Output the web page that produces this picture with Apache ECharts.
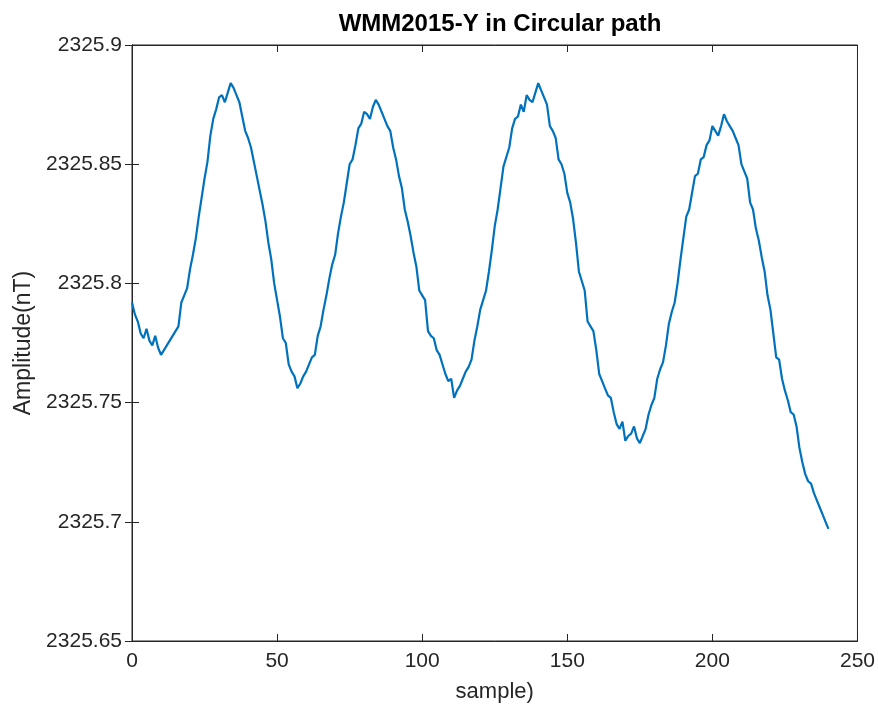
<!DOCTYPE html>
<html>
<head>
<meta charset="utf-8">
<script src="https://cdn.jsdelivr.net/npm/echarts@6/dist/echarts.min.js"></script>
<style>
html,body{margin:0;padding:0;background:#fff;}
#chart{width:878px;height:713px;}
</style>
</head>
<body>
<div id="chart"></div>
<script>
const titleText = "WMM2015-Y in Circular path";
const xName = "sample)";
const yName = "Amplitude(nT)";
const yTicks = [2325.65, 2325.7, 2325.75, 2325.8, 2325.85, 2325.9];
const xTicks = [0, 50, 100, 150, 200, 250];
const amplitude = [
2325.792,2325.787,2325.784,2325.779,2325.777,2325.781,2325.776,2325.774,2325.778,2325.773,
2325.770,2325.772,2325.774,2325.776,2325.778,2325.780,2325.782,2325.792,2325.795,2325.798,
2325.806,2325.812,2325.819,2325.828,2325.836,2325.844,2325.851,2325.862,2325.869,2325.873,
2325.878,2325.879,2325.876,2325.880,2325.884,2325.882,2325.879,2325.876,2325.870,2325.864,
2325.861,2325.857,2325.851,2325.845,2325.839,2325.833,2325.826,2325.817,2325.810,2325.800,
2325.793,2325.786,2325.777,2325.775,2325.766,2325.763,2325.761,2325.756,2325.758,2325.761,
2325.763,2325.766,2325.769,2325.770,2325.778,2325.782,2325.789,2325.795,2325.802,2325.808,
2325.812,2325.821,2325.828,2325.834,2325.842,2325.850,2325.852,2325.858,2325.865,2325.867,
2325.872,2325.871,2325.869,2325.874,2325.877,2325.875,2325.872,2325.869,2325.866,2325.864,
2325.857,2325.852,2325.845,2325.840,2325.831,2325.826,2325.820,2325.813,2325.807,2325.797,
2325.795,2325.793,2325.780,2325.778,2325.777,2325.772,2325.770,2325.766,2325.762,2325.759,
2325.760,2325.752,2325.755,2325.757,2325.760,2325.763,2325.765,2325.768,2325.776,2325.782,
2325.789,2325.793,2325.797,2325.805,2325.814,2325.824,2325.831,2325.840,2325.849,2325.853,
2325.857,2325.865,2325.869,2325.870,2325.875,2325.872,2325.879,2325.877,2325.876,2325.880,
2325.884,2325.881,2325.878,2325.875,2325.866,2325.864,2325.861,2325.852,2325.850,2325.846,
2325.838,2325.834,2325.827,2325.817,2325.805,2325.801,2325.797,2325.784,2325.782,2325.780,
2325.772,2325.762,2325.759,2325.756,2325.753,2325.752,2325.746,2325.741,2325.739,2325.742,
2325.734,2325.736,2325.737,2325.740,2325.735,2325.733,2325.736,2325.739,2325.745,2325.749,
2325.752,2325.760,2325.764,2325.767,2325.774,2325.783,2325.788,2325.792,2325.800,2325.810,
2325.819,2325.828,2325.831,2325.838,2325.845,2325.846,2325.852,2325.853,2325.858,2325.860,
2325.866,2325.864,2325.862,2325.866,2325.871,2325.868,2325.866,2325.864,2325.861,2325.858,
2325.850,2325.847,2325.844,2325.834,2325.831,2325.823,2325.818,2325.811,2325.805,2325.795,
2325.789,2325.779,2325.769,2325.768,2325.760,2325.755,2325.751,2325.746,2325.745,2325.740,
2325.731,2325.725,2325.720,2325.717,2325.716,2325.712,2325.709,2325.706,2325.703,2325.700,
2325.697
];

const seriesData = amplitude.map((v, i) => [i, v]);
const FONT = "Liberation Sans";
const axisColor = "#262626";

const fmtY = v => {
  let s = (Math.round(v * 100) / 100).toFixed(2);
  if (s.endsWith("0")) s = s.slice(0, -1);
  return s;
};

const chart = echarts.init(document.getElementById("chart"), null, {renderer: "canvas"});
chart.setOption({
  animation: false,
  backgroundColor: "#ffffff",
  title: {
    text: titleText,
    left: 495,
    textAlign: "center",
    top: 7,
    textStyle: {fontFamily: FONT, fontSize: 24, fontWeight: "bold", color: "#000"}
  },
  grid: {left: 132, right: 20, top: 45, bottom: 72, containLabel: false,
         show: true, borderColor: axisColor, borderWidth: 1},
  xAxis: [{
    type: "value", min: xTicks[0], max: xTicks[xTicks.length - 1], interval: 50,
    name: xName, nameLocation: "middle", nameGap: 40,
    nameTextStyle: {fontFamily: FONT, fontSize: 22, color: axisColor},
    axisLine: {show: true, lineStyle: {color: axisColor, width: 1}},
    axisTick: {show: true, inside: true, length: 7, lineStyle: {color: axisColor}},
    axisLabel: {fontFamily: FONT, fontSize: 21, color: axisColor, margin: 10},
    splitLine: {show: false}
  }, {
    type: "value", position: "top", min: xTicks[0], max: xTicks[xTicks.length - 1], interval: 50,
    axisLine: {show: true, lineStyle: {color: axisColor, width: 1}},
    axisTick: {show: true, inside: true, length: 7, lineStyle: {color: axisColor}},
    axisLabel: {show: false}, splitLine: {show: false}
  }],
  yAxis: [{
    type: "value", min: yTicks[0], max: yTicks[yTicks.length - 1], interval: 0.05,
    name: yName, nameLocation: "middle", nameGap: 97, nameRotate: 90,
    nameTextStyle: {fontFamily: FONT, fontSize: 23, color: axisColor},
    axisLine: {show: true, lineStyle: {color: axisColor, width: 1}},
    axisTick: {show: true, inside: true, length: 7, lineStyle: {color: axisColor}},
    axisLabel: {fontFamily: FONT, fontSize: 21, color: axisColor, margin: 10, formatter: fmtY},
    splitLine: {show: false}
  }, {
    type: "value", position: "right", min: yTicks[0], max: yTicks[yTicks.length - 1], interval: 0.05,
    axisLine: {show: true, lineStyle: {color: axisColor, width: 1}},
    axisTick: {show: true, inside: true, length: 7, lineStyle: {color: axisColor}},
    axisLabel: {show: false}, splitLine: {show: false}
  }],
  series: [{
    type: "line",
    data: seriesData,
    xAxisIndex: 0, yAxisIndex: 0,
    showSymbol: false,
    lineStyle: {color: "#0072BD", width: 2.2},
    itemStyle: {color: "#0072BD"}
  }]
});
</script>
</body>
</html>
